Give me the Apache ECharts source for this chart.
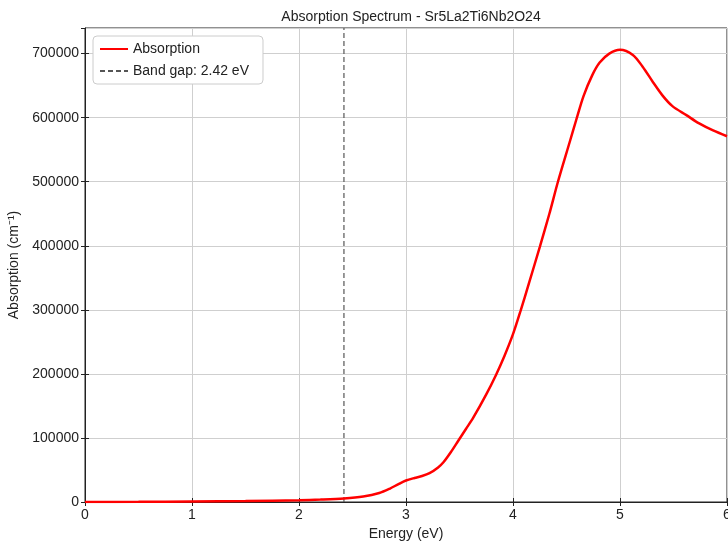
<!DOCTYPE html>
<html>
<head>
<meta charset="utf-8">
<script src="https://cdn.jsdelivr.net/npm/echarts@6/dist/echarts.min.js"></script>
<style>
  html, body { margin: 0; padding: 0; background: #fff; }
  #chart { width: 728px; height: 543px; }
</style>
</head>
<body>
<div id="chart"></div>
<script>
// values
var energy = [0, 0.5, 1, 1.5, 2, 2.2, 2.42, 2.6, 2.75, 2.85, 2.93, 3.0, 3.08, 3.15, 3.22, 3.3, 3.35, 3.42,
    3.49, 3.56, 3.63, 3.75, 3.84, 3.92, 4.0, 4.07, 4.15, 4.25, 4.34, 4.42, 4.53, 4.59, 4.66, 4.74, 4.81,
    4.9, 5.0, 5.12, 5.21, 5.31, 5.4, 5.49, 5.62, 5.74, 5.87, 6.0];
var absorption = [0, 200, 800, 1500, 2800, 3800, 5500, 8500, 14000, 21000, 28000, 33500, 37500, 40500, 45000,
    54000, 62000, 78000, 96000, 114000, 132000, 168000, 198000, 228000, 262000, 298000, 342000, 398000,
    450000, 500000, 562000, 596000, 634000, 666000, 686000, 700000, 706000, 698000, 680000, 655000, 634000,
    618000, 604000, 591000, 580000, 571000];
var bandGap = 2.42;
var yMax = 740000;

var absData = energy.map(function (e, i) { return [e, absorption[i]]; });
var gapData = [[bandGap, 0], [bandGap, yMax]];

var font = 'Liberation Sans';
var tickStyle = { show: true, inside: true, length: 4, lineStyle: { color: '#222' } };

var option = {
    animation: false,
    textStyle: { fontFamily: font },
    title: {
        text: 'Absorption Spectrum - Sr5La2Ti6Nb2O24',
        left: 406,
        textAlign: 'center',
        top: 5,
        textStyle: { fontFamily: font, fontSize: 14, fontWeight: 'normal', color: '#222' }
    },
    grid: {
        left: 85, right: 1, top: 28, bottom: 41,
        outerBoundsMode: 'none',
        containLabel: false,
        show: true, borderColor: '#222', borderWidth: 1
    },
    legend: {
        left: 93, top: 36,
        orient: 'vertical',
        itemGap: 8,
        itemWidth: 28,
        itemHeight: 10,
        padding: [6, 14, 6, 6],
        backgroundColor: '#fff',
        borderColor: '#ccc',
        borderWidth: 1,
        borderRadius: 4,
        itemStyle: { opacity: 0 },
        textStyle: { fontFamily: font, fontSize: 14, color: '#222' },
        data: ['Absorption', 'Band gap: 2.42 eV']
    },
    xAxis: [{
        type: 'value', min: 0, max: 6, interval: 1,
        name: 'Energy (eV)', nameLocation: 'middle', nameGap: 23,
        nameTextStyle: { fontFamily: font, fontSize: 14, color: '#222' },
        axisLine: { show: true, onZero: false, lineStyle: { color: '#222' } },
        axisTick: tickStyle,
        axisLabel: { fontFamily: font, fontSize: 14, color: '#222', margin: 6 },
        splitLine: { show: true, lineStyle: { color: '#cfcfcf' } }
    }, {
        type: 'value', min: 0, max: 6, interval: 1, position: 'top',
        axisLine: { show: false }, axisTick: tickStyle,
        axisLabel: { show: false }, splitLine: { show: false }
    }],
    yAxis: [{
        type: 'value', min: 0, max: yMax, interval: 100000,
        name: 'Absorption (cm⁻¹)', nameLocation: 'middle', nameGap: 54,
        nameTextStyle: { fontFamily: font, fontSize: 14, color: '#222' },
        axisLine: { show: true, onZero: false, lineStyle: { color: '#222' } },
        axisTick: tickStyle,
        axisLabel: {
            fontFamily: font, fontSize: 14, color: '#222', margin: 6, showMaxLabel: false,
            formatter: function (v) { return String(v); }
        },
        splitLine: { show: true, lineStyle: { color: '#cfcfcf' } }
    }, {
        type: 'value', min: 0, max: yMax, interval: 100000, position: 'right',
        axisLine: { show: false }, axisTick: tickStyle,
        axisLabel: { show: false }, splitLine: { show: false }
    }],
    series: [{
        name: 'Absorption',
        type: 'line',
        data: absData,
        smooth: 0.3,
        showSymbol: false,
        symbol: 'none',
        lineStyle: { color: '#ff0000', width: 2.5 },
        itemStyle: { color: '#ff0000' },
        z: 3
    }, {
        name: 'Band gap: 2.42 eV',
        type: 'line',
        data: gapData,
        symbol: 'none',
        lineStyle: { color: '#555', width: 1.2, type: [5, 3] },
        itemStyle: { color: '#555' },
        z: 2
    }]
};

var chart = echarts.init(document.getElementById('chart'));
chart.setOption(option);
</script>
</body>
</html>
